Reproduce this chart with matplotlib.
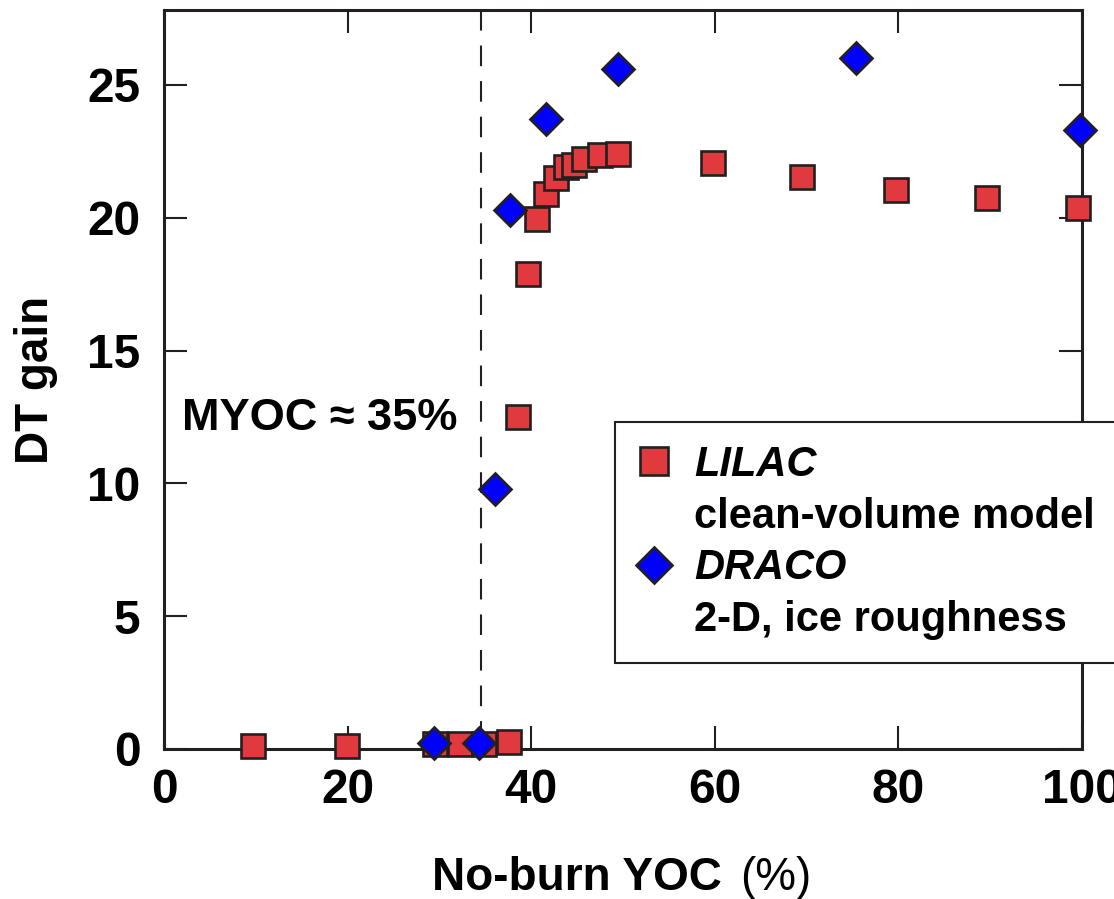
import matplotlib
matplotlib.use("Agg")
import matplotlib.pyplot as plt
from matplotlib.lines import Line2D

# LILAC clean-volume model results
lilac_yoc = [9.7, 19.9, 29.5, 32.2, 34.9, 37.6, 38.6, 39.7, 40.6, 41.6, 42.7,
             43.8, 44.7, 45.7, 47.5, 49.5, 59.8, 69.5, 79.7, 89.6, 99.6]
lilac_gain = [0.1, 0.1, 0.2, 0.2, 0.2, 0.25, 12.5, 17.9, 19.95, 20.9, 21.5,
              21.9, 22.0, 22.2, 22.35, 22.4, 22.05, 21.55, 21.05, 20.75, 20.35]

# DRACO 2-D simulations with ice roughness
draco_yoc = [29.4, 34.3, 36.1, 37.7, 41.6, 49.5, 75.4, 99.8]
draco_gain = [0.23, 0.23, 9.8, 20.3, 23.7, 25.6, 26.0, 23.3]

myoc = 34.5
x_ticks = [0, 20, 40, 60, 80, 100]
y_ticks = [0, 5, 10, 15, 20, 25]

RED = "#E03A3E"
BLUE = "#0000FF"
EDGE = "#231F20"
FONT = "Liberation Sans"

plt.rcParams["font.family"] = [FONT, "DejaVu Sans"]
plt.rcParams["font.weight"] = "bold"

W, H = 1114, 899
fig = plt.figure(figsize=(W / 100, H / 100), dpi=100)
ax = fig.add_axes([164 / W, (H - 749) / H, (1082 - 164) / W, (749 - 10) / H])

ax.set_xlim(0, 100)
ax.set_ylim(0, 27.82)

# threshold marker
ax.plot([myoc, myoc], [27.82, 0], color=EDGE, lw=1.5,
        linestyle=(0, (14.8 / 1.5, 10.8 / 1.5)), zorder=2)

ax.plot(lilac_yoc, lilac_gain, linestyle="none", marker="s", ms=17.5,
        mfc=RED, mec=EDGE, mew=1.9, clip_on=False, zorder=3)
ax.plot(draco_yoc, draco_gain, linestyle="none", marker="D", ms=16.0,
        mfc=BLUE, mec=EDGE, mew=1.9, clip_on=False, zorder=4)

ax.text(2.0, 12.0, "MYOC \u2248 35%", fontsize=32.5, fontweight="bold",
        va="baseline", ha="left")

ax.set_xticks(x_ticks)
ax.set_yticks(y_ticks)
ax.tick_params(axis="both", which="major", direction="in", length=16.5,
               width=1.5, color=EDGE, top=True, right=True, labelsize=34.5)
ax.tick_params(axis="x", pad=14)
ax.tick_params(axis="y", pad=17)
for lab in ax.get_xticklabels() + ax.get_yticklabels():
    lab.set_fontweight("bold")

for sp in ax.spines.values():
    sp.set_linewidth(2.2)
    sp.set_color(EDGE)

ax.set_ylabel("DT gain", fontsize=33, fontweight="bold")
ax.yaxis.set_label_coords((58 - 164) / (1082 - 164), 0.5)

fig.text(722 / W, 9 / H, "No-burn YOC", fontsize=33, fontweight="bold",
         ha="right", va="baseline")
fig.text(740 / W, 9 / H, "(%)", fontsize=33, fontweight="normal",
         ha="left", va="baseline")

handles = [
    Line2D([], [], linestyle="none", marker="s", ms=17.5, mfc=RED, mec=EDGE, mew=1.9),
    Line2D([], [], linestyle="none"),
    Line2D([], [], linestyle="none", marker="D", ms=16.0, mfc=BLUE, mec=EDGE, mew=1.9),
    Line2D([], [], linestyle="none"),
]
labels = ["LILAC", "clean-volume model", "DRACO", "2-D, ice roughness"]
leg = ax.legend(handles, labels, loc="upper left",
                bbox_to_anchor=(615 / W, (H - 422) / H),
                bbox_transform=fig.transFigure, borderaxespad=0,
                fontsize=30, frameon=True, fancybox=False, framealpha=1,
                edgecolor=EDGE, borderpad=0.55, labelspacing=0.28,
                handlelength=0.75, handletextpad=0.6, markerscale=1.15)
leg.get_frame().set_linewidth(1.5)
for i, t in enumerate(leg.get_texts()):
    t.set_fontweight("bold")
    if i in (0, 2):
        t.set_fontstyle("italic")

fig.savefig("out.png", dpi=100)
